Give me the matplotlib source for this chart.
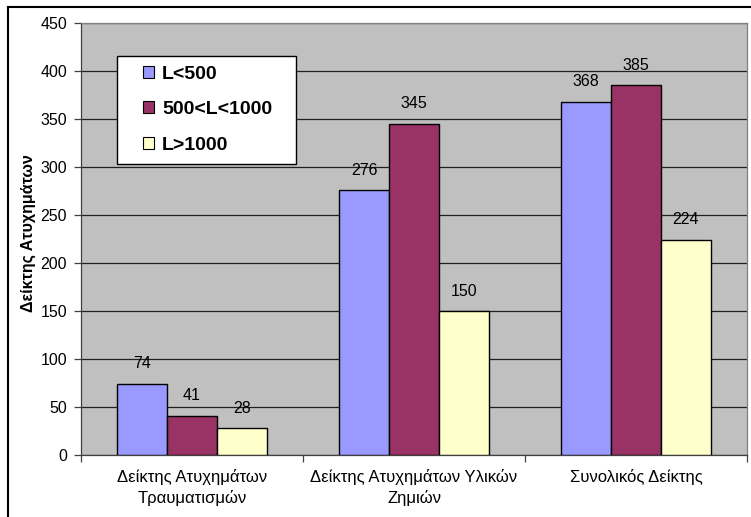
import matplotlib
matplotlib.use("Agg")
import matplotlib.pyplot as plt
import matplotlib.patches as mpatches
import numpy as np
from matplotlib.lines import Line2D

plt.rcParams["font.family"] = ["Liberation Sans", "DejaVu Sans"]

categories = ["Δείκτης Ατυχημάτων\nΤραυματισμών",
              "Δείκτης Ατυχημάτων Υλικών\nΖημιών",
              "Συνολικός Δείκτης"]
series_names = ["L<500", "500<L<1000", "L>1000"]
low_vals = [74, 276, 368]
mid_vals = [41, 345, 385]
high_vals = [28, 150, 224]
y_ticks = [0, 50, 100, 150, 200, 250, 300, 350, 400, 450]

COLORS = ["#9999FF", "#993366", "#FFFFCC"]
W, H = 751, 517

fig = plt.figure(figsize=(W / 100, H / 100), dpi=100)
ax = fig.add_axes([81 / W, 1 - 455 / H, 666 / W, 432 / H])
ax.set_facecolor("#C0C0C0")

x = np.arange(len(categories))
w = 0.224
for i, vals in enumerate([low_vals, mid_vals, high_vals]):
    bars = ax.bar(x + (i - 1) * w, vals, width=w, color=COLORS[i],
                  edgecolor="black", linewidth=1.0, zorder=3)
    for b, v in zip(bars, vals):
        ax.annotate(str(v), xy=(b.get_x() + b.get_width() / 2, v),
                    xytext=(0, 9), textcoords="offset points",
                    ha="center", va="bottom", fontsize=11.5, zorder=4)

ax.set_xlim(-0.5, 2.5)
ax.set_ylim(0, 450)
ax.set_yticks(y_ticks)
ax.yaxis.grid(True, color="#202020", linewidth=0.9, zorder=1)
ax.set_axisbelow(True)

# category ticks at boundaries, labels centered
ax.set_xticks([-0.5, 0.5, 1.5, 2.5])
ax.set_xticklabels([])
ax.set_xticks(x, minor=True)
ax.set_xticklabels(categories, minor=True, fontsize=12, linespacing=1.4)
ax.tick_params(axis="x", which="minor", length=0, pad=10)
ax.tick_params(axis="x", which="major", length=5, width=0.9, color="#404040")
ax.tick_params(axis="y", length=5, width=0.9, color="#404040", labelsize=11.5, pad=5)

for side in ["top", "right"]:
    ax.spines[side].set_color("#808080")
    ax.spines[side].set_linewidth(0.9)
for side in ["left", "bottom"]:
    ax.spines[side].set_color("#404040")
    ax.spines[side].set_linewidth(0.9)

ax.set_ylabel("Δείκτης Ατυχημάτων", fontsize=11.5, fontweight="bold")
ax.yaxis.set_label_coords(-0.068, 0.513)

# legend: white frame drawn separately so the padding can be uneven
ax.add_patch(mpatches.Rectangle(((117 - 81) / 666, (455 - 164) / 432),
                                179 / 666, 108 / 432, transform=ax.transAxes,
                                facecolor="white", edgecolor="black",
                                linewidth=1.0, zorder=5))
handles = [mpatches.Patch(facecolor=c, edgecolor="black", linewidth=0.8, label=n)
           for c, n in zip(COLORS, series_names)]
leg = ax.legend(handles=handles, loc="upper left",
                bbox_to_anchor=((143 - 81) / 666, (455 - 66) / 432),
                frameon=False, prop={"size": 14, "weight": "bold"},
                handlelength=0.57, handleheight=0.57, handletextpad=0.41,
                borderpad=0, labelspacing=0.94, borderaxespad=0)
leg.set_zorder(6)

# outer chart border (left and top visible)
fig.add_artist(Line2D([8 / W, 8 / W], [0, 1 - 7 / H], color="black",
                      linewidth=1.5, transform=fig.transFigure))
fig.add_artist(Line2D([8 / W, 1], [1 - 7 / H, 1 - 7 / H], color="black",
                      linewidth=1.5, transform=fig.transFigure))

fig.savefig("out.png", dpi=100)
